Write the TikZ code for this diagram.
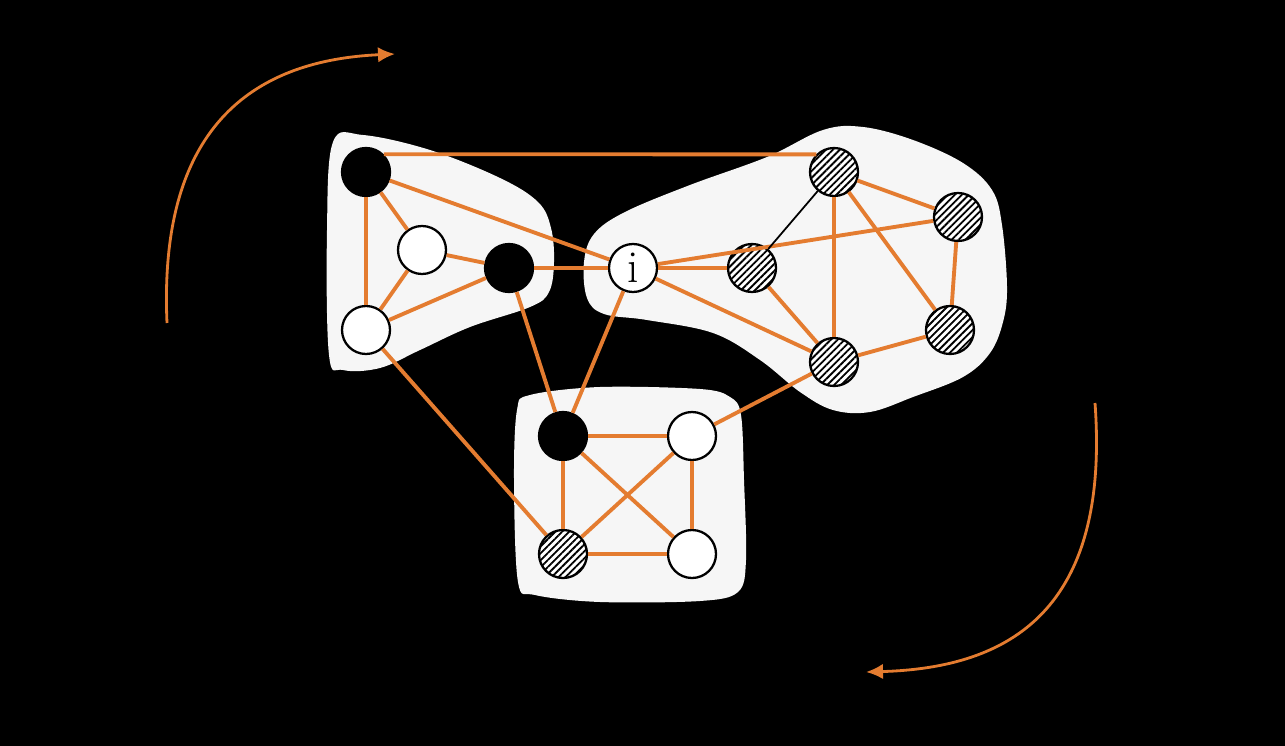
\documentclass[tikz,border=0pt]{standalone}
\usetikzlibrary{arrows.meta,patterns.meta}
\definecolor{arancio}{RGB}{228,124,48}
\definecolor{sfondo}{RGB}{246,246,246}
\tikzset{
  nodo/.style={circle,draw=black,line width=1.3pt,minimum size=9.6mm,inner sep=0pt},
  pieno/.style={nodo,fill=black},
  vuoto/.style={nodo,fill=white},
  tratteggiato/.style={nodo,preaction={fill=white},pattern={Lines[angle=45,distance=2.8pt,line width=1.05pt]}},
  arco/.style={draw=arancio,line width=2.2pt},
  freccia/.style={draw=arancio,line width=1.6pt,-{Latex[length=3.4mm,width=3.1mm]}},
  zona/.style={fill=sfondo}
}
\begin{document}
\begin{tikzpicture}[x=0.2mm,y=-0.2mm]
        % Sfondo
        \fill[black] (0,0) rectangle (1285,746);

        % Zone
        \fill[zona] plot[smooth cycle,tension=0.6] coordinates {(333,142) (363,135) (430,150) (500,178) (538,202) (551,228) (554,262) (549,292) (530,307) (470,327) (420,350) (380,368) (343,370) (329,355) (327,230)};
        \fill[zona] plot[smooth cycle,tension=0.6] coordinates {(584,262) (594,234) (625,212) (690,185) (767,157) (823,130) (863,127) (913,140) (963,163) (992,190) (1002,225) (1007,287) (1003,322) (990,353) (963,377) (913,397) (870,412) (833,410) (800,392) (760,360) (713,333) (647,320) (604,314) (587,298)};
        \fill[zona] plot[smooth cycle,tension=0.55] coordinates {(517,410) (530,395) (600,387) (700,389) (730,397) (741,415) (744,480) (746,560) (738,592) (700,601) (600,602) (535,595) (518,582) (514,480)};

        % Nodi a sinistra
        \node[pieno] (A) at (366,172) {};
        \node[vuoto] (B) at (422,250) {};
        \node[vuoto] (C) at (366,330) {};
        \node[pieno] (D) at (509,268) {};
        \node[vuoto,font=\fontsize{26}{26}\selectfont] (i) at (633,268) {i};

        % Nodi a destra
        \node[tratteggiato] (E) at (834,172) {};
        \node[tratteggiato] (F) at (958,217) {};
        \node[tratteggiato] (G) at (752,268) {};
        \node[tratteggiato] (H) at (950,330) {};
        \node[tratteggiato] (J) at (834,362) {};

        % Nodi in basso
        \node[pieno] (K) at (563,436) {};
        \node[vuoto] (L) at (692,436) {};
        \node[tratteggiato] (M) at (563,554) {};
        \node[vuoto] (N) at (692,554) {};

        % Collegamenti
        \draw[arco] (A.45) -- (E.135);
        \draw[arco] (A) -- (i);
        \draw[arco] (A) -- (B);
        \draw[arco] (A) -- (C);
        \draw[arco] (B) -- (C);
        \draw[arco] (B) -- (D);
        \draw[arco] (C) -- (D);
        \draw[arco] (D) -- (i);
        \draw[arco] (D) -- (K);
        \draw[arco] (C) -- (M);
        \draw[arco] (i) -- (K);
        \draw[arco] (i) -- (G);
        \draw[arco] (i) -- (F);
        \draw[arco] (i) -- (J);
        \draw[line width=1pt] (G) -- (E);
        \draw[arco] (G) -- (J);
        \draw[arco] (E) -- (J);
        \draw[arco] (E) -- (F);
        \draw[arco] (E) -- (H);
        \draw[arco] (F) -- (H);
        \draw[arco] (H) -- (J);
        \draw[arco] (J) -- (L);
        \draw[arco] (K) -- (L);
        \draw[arco] (K) -- (M);
        \draw[arco] (K) -- (N);
        \draw[arco] (L) -- (M);
        \draw[arco] (L) -- (N);
        \draw[arco] (M) -- (N);

        % Frecce curve
        \coordinate (p1) at (167,323);
        \coordinate (p2) at (395,54);
        \coordinate (q1) at (1095,403);
        \coordinate (q2) at (866,672);
        \draw[freccia] (p1) .. controls (158,120) and (260,60) .. (p2);
        \draw[freccia] (q1) .. controls (1110,610) and (1010,668) .. (q2);
\end{tikzpicture}
\end{document}
